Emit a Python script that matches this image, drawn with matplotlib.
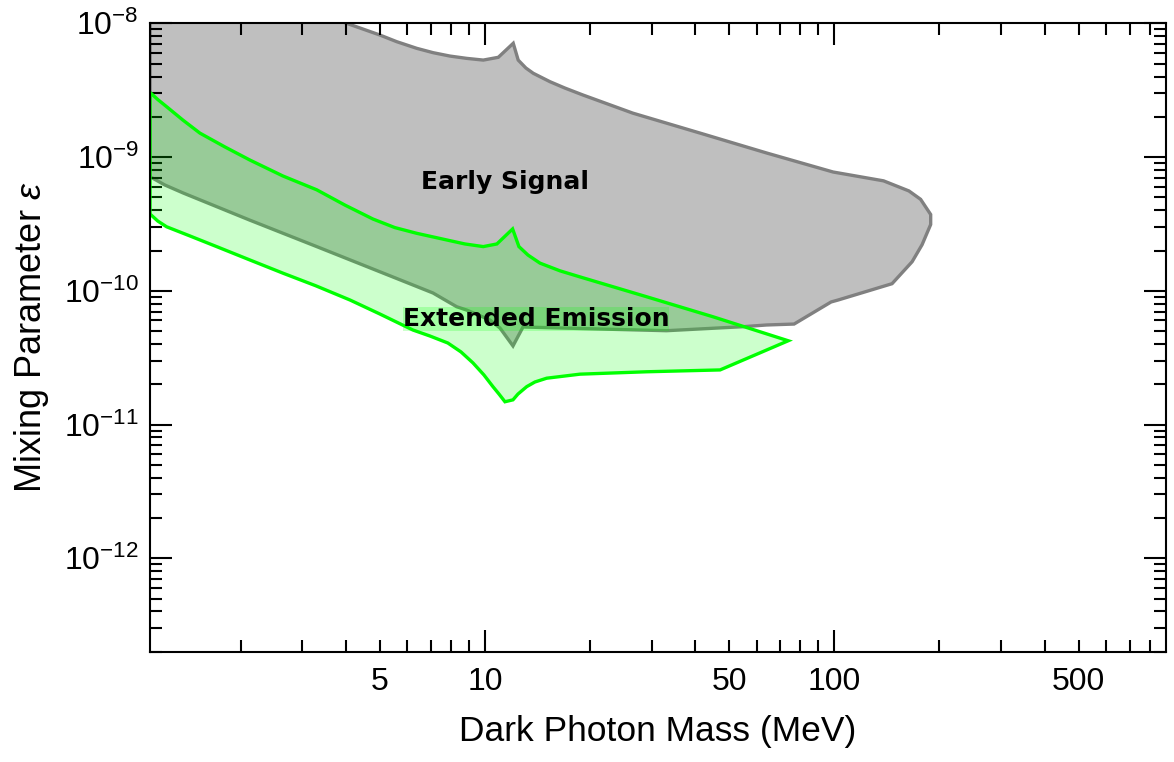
import numpy as np
import matplotlib.pyplot as plt
from matplotlib.ticker import LogLocator, FuncFormatter, NullFormatter

plt.rcParams['font.family'] = ['Liberation Sans', 'DejaVu Sans']
plt.rcParams['mathtext.fontset'] = 'custom'
plt.rcParams['mathtext.rm'] = 'Liberation Sans'
plt.rcParams['mathtext.it'] = 'Liberation Sans:italic'
plt.rcParams['mathtext.bf'] = 'Liberation Sans:bold'

# early signal region: upper edge (left -> right), then lower edge (right -> left)
early_top_mass = [1.10, 4.02, 4.47, 5.00, 5.59, 6.38, 7.11, 7.94, 8.86, 9.89, 10.92, 12.05,
                  12.45, 13.10, 13.75, 15.35, 16.94, 19.08, 26.5, 41.3, 64.2, 99.2, 138.3,
                  163.5, 176.6, 188.7, 188.7]
early_top_eps = [3.3e-8, 1.0e-8, 9.07e-9, 8.18e-9, 7.29e-9, 6.50e-9, 6.03e-9, 5.69e-9, 5.47e-9,
                 5.31e-9, 5.57e-9, 7.09e-9, 5.31e-9, 4.63e-9, 4.23e-9, 3.66e-9, 3.28e-9,
                 2.91e-9, 2.13e-9, 1.51e-9, 1.07e-9, 7.73e-10, 6.64e-10, 5.58e-10, 4.83e-10,
                 3.72e-10, 3.13e-10]
early_bot_mass = [178.3, 167.0, 146.3, 102.5, 97.9, 76.7, 64.0, 54.8, 33.1, 21.3, 12.85, 12.03,
                  11.04, 10.33, 8.86, 8.30, 7.10, 5.10, 3.30, 2.12, 1.37, 1.213, 1.10]
early_bot_eps = [2.21e-10, 1.65e-10, 1.13e-10, 8.53e-11, 8.25e-11, 5.64e-11, 5.55e-11, 5.39e-11,
                 5.03e-11, 5.18e-11, 5.36e-11, 3.87e-11, 5.27e-11, 6.05e-11, 7.18e-11, 7.60e-11,
                 9.63e-11, 1.36e-10, 2.14e-10, 3.38e-10, 5.38e-10, 6.18e-10, 7.13e-10]

# extended emission region
ext_top_mass = [1.10, 1.158, 1.227, 1.366, 1.528, 1.802, 2.124, 2.64, 3.30, 3.97, 4.78, 5.52,
                6.38, 7.77, 8.76, 9.89, 10.82, 12.0, 12.51, 13.28, 14.37, 16.40, 18.71, 29.0,
                44.9, 73.8]
ext_top_eps = [3.04e-9, 2.69e-9, 2.38e-9, 1.89e-9, 1.51e-9, 1.19e-9, 9.50e-10, 7.22e-10,
               5.69e-10, 4.38e-10, 3.44e-10, 2.97e-10, 2.69e-10, 2.40e-10, 2.24e-10, 2.14e-10,
               2.24e-10, 2.90e-10, 2.14e-10, 1.85e-10, 1.61e-10, 1.41e-10, 1.27e-10, 9.03e-11,
               6.40e-11, 4.23e-11]
ext_bot_mass = [47.1, 29.0, 18.71, 15.02, 13.90, 13.17, 12.43, 12.03, 11.41, 10.97, 10.54, 9.93,
                9.24, 8.54, 7.83, 6.96, 6.22, 5.00, 4.11, 3.28, 2.65, 2.124, 1.706, 1.431,
                1.227, 1.158, 1.10]
ext_bot_eps = [2.56e-11, 2.48e-11, 2.38e-11, 2.22e-11, 2.08e-11, 1.92e-11, 1.69e-11, 1.53e-11,
               1.48e-11, 1.69e-11, 1.92e-11, 2.35e-11, 2.89e-11, 3.49e-11, 4.07e-11, 4.59e-11,
               5.09e-11, 6.71e-11, 8.53e-11, 1.09e-10, 1.35e-10, 1.70e-10, 2.14e-10, 2.57e-10,
               3.01e-10, 3.32e-10, 3.75e-10]

x_labelled = [5, 50, 500]

fig = plt.figure(figsize=(11.74, 7.62), dpi=100)
ax = fig.add_subplot(111)
fig.subplots_adjust(left=0.1278, right=0.9932, bottom=0.1447, top=0.9694)

ax.set_xscale('log')
ax.set_yscale('log')

ax.fill(early_top_mass + early_bot_mass, early_top_eps + early_bot_eps,
        facecolor='#bfbfbf', edgecolor='#808080', linewidth=2.4, zorder=1)
ax.fill(ext_top_mass + ext_bot_mass, ext_top_eps + ext_bot_eps,
        facecolor=(0, 1, 0, 0.2), edgecolor='#00ff00', linewidth=2.4, zorder=2)

ax.text(11.4, 6.51e-10, 'Early Signal', fontsize=18, fontweight='bold',
        family='DejaVu Sans', ha='center', va='center', zorder=3)
ax.text(14.0, 6.15e-11, 'Extended Emission', fontsize=18, fontweight='bold',
        family='DejaVu Sans', ha='center', va='center', zorder=3,
        bbox=dict(facecolor=(0, 1, 0, 0.2), edgecolor='none', pad=0))

ax.set_xlim(1.1, 890)
ax.set_ylim(2e-13, 1e-8)

ax.xaxis.set_major_locator(LogLocator(base=10))
ax.xaxis.set_minor_locator(LogLocator(base=10, subs=np.arange(2, 10)))
ax.xaxis.set_major_formatter(FuncFormatter(lambda v, p: f'{v:g}'))
ax.xaxis.set_minor_formatter(FuncFormatter(
    lambda v, p: f'{v:g}' if np.any(np.isclose(v, x_labelled)) else ''))
ax.yaxis.set_minor_locator(LogLocator(base=10, subs=np.arange(2, 10)))
ax.yaxis.set_minor_formatter(NullFormatter())

ax.tick_params(which='both', direction='in', top=True, right=True, width=1.5,
               labelsize=23)
ax.tick_params(which='major', length=16)
ax.tick_params(which='minor', length=8.5)
ax.tick_params(axis='x', which='both', pad=11)
ax.tick_params(axis='y', which='both', pad=8)
for s in ax.spines.values():
    s.set_linewidth(1.5)

ax.set_xlabel('Dark Photon Mass (MeV)', fontsize=25.5, labelpad=13)
ax.set_ylabel(r'Mixing Parameter $\epsilon$', fontsize=26, labelpad=9)

fig.savefig('out.png', dpi=100)
